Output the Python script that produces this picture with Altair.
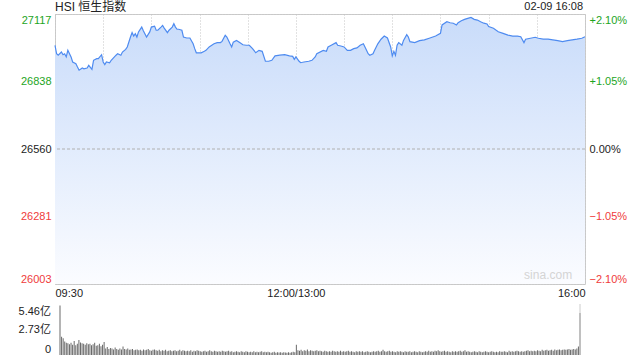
import altair as alt
import pandas as pd

# ---- data ----
minutes = [0, 1, 2, 4, 5, 6, 7, 8, 10, 11, 13, 14, 15, 17, 18, 20, 21, 23, 24, 26, 27, 29, 30, 31, 32, 34, 35,
           38, 39, 41, 42, 44, 45, 47, 48, 49, 50, 51, 52, 54, 55, 57, 59, 60, 62, 63, 64, 66, 67, 68, 70, 71,
           73, 74, 75, 76, 77, 79, 80, 82, 84, 86, 87, 88, 90, 91, 93, 94, 96, 99, 101, 103, 104, 106, 107,
           109, 110, 111, 113, 115, 117, 119, 121, 123, 125, 127, 129, 131, 133, 135, 137, 140, 143, 146, 148,
           149, 150, 152, 153, 155, 158, 160, 162, 163, 167, 169, 170, 172, 175, 176, 178, 180, 182, 184, 186,
           188, 190, 192, 193, 195, 196, 198, 199, 201, 203, 205, 207, 209, 210, 211, 212, 213, 214, 216, 217,
           219, 220, 221, 224, 227, 230, 233, 237, 240, 241, 244, 246, 248, 250, 251, 253, 255, 257, 259, 261,
           263, 265, 267, 269, 270, 273, 276, 279, 282, 285, 288, 290, 292, 293, 296, 299, 301, 304, 307, 310,
           313, 316, 319, 322, 325, 328, 330]
prices = [26988, 26953, 26947, 26960, 26949, 26953, 26940, 26967, 26940, 26919, 26912, 26898, 26885, 26894,
          26891, 26894, 26905, 26889, 26926, 26933, 26933, 26949, 26919, 26908, 26919, 26916, 26926, 26947,
          26953, 26947, 26960, 26971, 26981, 27022, 27040, 27026, 27036, 27022, 27043, 27063, 27048, 27022,
          27043, 27063, 27067, 27050, 27050, 27063, 27070, 27059, 27040, 27050, 27063, 27077, 27063, 27054,
          27054, 27050, 27022, 27018, 27018, 26994, 26974, 26957, 26957, 26957, 26963, 26967, 26981, 26994,
          26999, 26999, 27004, 27029, 27022, 26994, 26981, 27001, 27008, 26999, 26990, 26988, 26988, 26974,
          26957, 26967, 26963, 26922, 26922, 26926, 26944, 26947, 26949, 26944, 26942, 26930, 26940, 26922,
          26916, 26919, 26922, 26926, 26940, 26953, 26967, 26963, 26981, 26988, 26999, 26988, 26985, 26981,
          26967, 26967, 26974, 26977, 26988, 26994, 26981, 26953, 26947, 26953, 26967, 26994, 27013, 27026,
          27018, 26981, 26944, 26963, 26947, 26988, 26999, 26988, 27008, 27032, 27022, 27003, 26999, 27007,
          27010, 27017, 27026, 27037, 27072, 27085, 27081, 27079, 27072, 27081, 27089, 27095, 27099, 27103,
          27095, 27092, 27085, 27079, 27076, 27065, 27058, 27044, 27037, 27030, 27026, 27026, 27023, 26999,
          27013, 27017, 27021, 27017, 27013, 27013, 27010, 27007, 27003, 27007, 27010, 27013, 27017, 27023]

# volume per minute, in 亿 (1e8)
volumes = [
    5.30,
    1.95, 1.80, 1.45, 1.30, 1.25, 1.15, 1.30, 1.10, 1.50, 1.05,
    1.20, 1.60, 1.35, 1.25, 1.20, 1.10, 1.25, 1.15, 1.20, 1.05,
    1.15, 1.30, 1.00, 1.05, 1.20, 0.95, 1.10, 1.40, 0.70, 0.85,
    0.65, 0.75, 0.70, 0.60, 0.80, 0.65, 0.55, 0.70, 0.60, 0.90,
    0.65, 0.60, 0.70, 0.55, 0.60, 0.65, 0.50, 0.55, 0.60, 0.50,
    0.55, 0.45, 0.60, 0.50, 0.55, 0.65, 0.50, 0.45, 0.55, 0.60,
    0.50, 0.45, 0.55, 0.40, 0.50, 0.45, 0.55, 0.40, 0.45, 0.50,
    0.40, 0.45, 0.50, 0.40, 0.45, 0.55, 0.40, 0.50, 0.45, 0.40,
    0.45, 0.40, 0.50, 0.35, 0.45, 0.40, 0.50, 0.45, 0.40, 0.35,
    0.40, 0.45, 0.35, 0.40, 0.50, 0.40, 0.35, 0.45, 0.40, 0.35,
    0.40, 0.35, 0.45, 0.40, 0.35, 0.40, 0.45, 0.35, 0.40, 0.30,
    0.35, 0.40, 0.35, 0.30, 0.40, 0.35, 0.30, 0.40, 0.35, 0.30,
    0.35, 0.30, 0.40, 0.30, 0.35, 0.30, 0.35, 0.40, 0.30, 0.35,
    0.30, 0.35, 0.30, 0.25, 0.30, 0.35, 0.25, 0.30, 0.28, 0.30,
    0.25, 0.30, 0.28, 0.25, 0.30, 0.25, 0.30, 0.35, 0.30, 1.10,
    0.50, 0.45, 0.55, 0.40, 0.50, 0.45, 0.60, 0.40, 0.50, 0.45,
    0.40, 0.45, 0.50, 0.40, 0.45, 0.40, 0.35, 0.45, 0.40, 0.35,
    0.40, 0.35, 0.45, 0.40, 0.35, 0.40, 0.35, 0.45, 0.35, 0.40,
    0.35, 0.40, 0.45, 0.35, 0.40, 0.35, 0.30, 0.40, 0.35, 0.40,
    0.35, 0.40, 0.30, 0.35, 0.40, 0.35, 0.30, 0.35, 0.40, 0.35,
    0.40, 0.45, 0.35, 0.40, 0.55, 0.40, 0.35, 0.40, 0.45, 0.35,
    0.40, 0.35, 0.30, 0.40, 0.35, 0.40, 0.35, 0.30, 0.40, 0.35,
    0.35, 0.40, 0.30, 0.35, 0.40, 0.35, 0.30, 0.40, 0.35, 0.30,
    0.35, 0.40, 0.35, 0.45, 0.35, 0.40, 0.35, 0.45, 0.40, 0.50,
    0.40, 0.35, 0.40, 0.45, 0.35, 0.40, 0.35, 0.30, 0.40, 0.35,
    0.40, 0.35, 0.40, 0.45, 0.35, 0.40, 0.50, 0.35, 0.40, 0.35,
    0.30, 0.35, 0.40, 0.35, 0.30, 0.40, 0.35, 0.30, 0.35, 0.40,
    0.35, 0.30, 0.35, 0.40, 0.35, 0.30, 0.35, 0.30, 0.40, 0.35,
    0.35, 0.40, 0.35, 0.30, 0.45, 0.35, 0.40, 0.35, 0.40, 0.45,
    0.40, 0.35, 0.40, 0.35, 0.40, 0.45, 0.50, 0.40, 0.45, 0.40,
    0.45, 0.40, 0.50, 0.45, 0.40, 0.55, 0.45, 0.50, 0.55, 0.45,
    0.50, 0.55, 0.45, 0.60, 0.50, 0.55, 0.60, 0.50, 0.55, 0.60,
    0.55, 0.60, 0.65, 0.55, 0.60, 0.65, 0.60, 0.70, 0.90, 4.50,
]
vol_minutes = list(range(len(volumes)))

title_text = "HSI 恒生指数"
stamp_text = "02-09 16:08"
watermark_text = "sina.com"
PREV_CLOSE = 26560
price_ticks = [26003, 26281, 26560, 26838, 27117]
pct_ticks = [-2.10, -1.05, 0.0, 1.05, 2.10]
time_ticks = list(range(0, 331, 30))
vol_ticks = [0, 2.73, 5.46]
vol_tick_labels = ["0", "2.73亿", "5.46亿"]

# ---- styling ----
FONT = "Liberation Sans, Noto Sans CJK SC, sans-serif"
GREEN = "#1ea51e"
RED = "#ef3b3b"
GRID = "#c4c4c4"
BORDER = "#cccccc"
W, H, VH = 530, 270, 51

df = pd.DataFrame({"m": minutes, "price": prices})
df["pct"] = (df["price"] - PREV_CLOSE) / PREV_CLOSE * 100
vdf = pd.DataFrame({"m": vol_minutes, "vol": volumes})

xscale = alt.Scale(domain=[0, 330], nice=False, zero=False)
yscale = alt.Scale(domain=[price_ticks[0], price_ticks[-1]], nice=False, zero=False)

xaxis = alt.Axis(
    values=time_ticks,
    labelExpr="datum.value == 0 ? '09:30' : datum.value == 150 ? '12:00/13:00' : datum.value == 330 ? '16:00' : ''",
    grid=True, gridDash=[1, 2], gridColor=GRID, ticks=False, domain=False,
    labelFlush=True, labelOverlap=False, labelPadding=3, labelFontSize=11,
    labelColor="#222222", labelFont=FONT, title=None,
)
yaxis = alt.Axis(
    values=price_ticks, format="d", grid=True, gridDash=[1, 2], gridColor=GRID, ticks=False, domain=False,
    labelFlush=True, labelOverlap=False, labelPadding=4, labelFontSize=11, labelFont=FONT,
    labelColor={"condition": [{"test": "datum.value > 26561", "value": GREEN},
                              {"test": "datum.value < 26559", "value": RED}],
                "value": "#222222"},
    title=None,
)

base = alt.Chart(df)
area = base.mark_area(
    color=alt.Gradient(
        gradient="linear",
        stops=[alt.GradientStop(color="#c9dcfa", offset=0),
               alt.GradientStop(color="#fbfcff", offset=1)],
        x1=1, x2=1, y1=0, y2=1,
    )
).encode(
    x=alt.X("m:Q", scale=xscale, axis=xaxis),
    y=alt.Y("price:Q", scale=yscale, axis=yaxis),
    y2=alt.datum(price_ticks[0]),
)
line = base.mark_line(color="#4e8bf0", strokeWidth=1.2).encode(
    x=alt.X("m:Q", scale=xscale), y=alt.Y("price:Q", scale=yscale)
)
zero_rule = alt.Chart(pd.DataFrame({"p": [PREV_CLOSE]})).mark_rule(
    color="#b0b0b0", strokeDash=[3, 2], strokeWidth=1
).encode(y=alt.Y("p:Q", scale=yscale))
watermark = alt.Chart(pd.DataFrame({"t": [watermark_text], "m": [322], "p": [26010]})).mark_text(
    align="right", baseline="bottom", fontSize=12, color="#d4d4d4", font=FONT
).encode(x=alt.X("m:Q", scale=xscale), y=alt.Y("p:Q", scale=yscale), text="t:N")
header_left = alt.Chart(pd.DataFrame({"t": [title_text]})).mark_text(
    align="left", baseline="middle", fontSize=12, color="#222222", font=FONT
).encode(text="t:N", x=alt.value(0), y=alt.value(-7))
header_right = alt.Chart(pd.DataFrame({"t": [stamp_text]})).mark_text(
    align="right", baseline="middle", fontSize=11, color="#222222", font=FONT
).encode(text="t:N", x=alt.value(W - 2), y=alt.value(-7))

main = alt.layer(area, zero_rule, line, watermark, header_left, header_right)

pct_layer = base.mark_line(opacity=0).encode(
    x=alt.X("m:Q", scale=xscale),
    y=alt.Y("pct:Q", scale=alt.Scale(domain=[pct_ticks[0], pct_ticks[-1]], nice=False, zero=False),
            axis=alt.Axis(
                orient="right", values=pct_ticks, grid=False, ticks=False, domain=False,
                labelExpr="(datum.value > 0 ? '+' : '') + format(datum.value, '.2f') + '%'",
                labelFlush=True, labelOverlap=False, labelPadding=4, labelFontSize=11, labelFont=FONT,
                labelColor={"condition": [{"test": "datum.value > 0.001", "value": GREEN},
                                          {"test": "datum.value < -0.001", "value": RED}],
                            "value": "#222222"},
                title=None)),
)

top = alt.layer(main, pct_layer).resolve_scale(y="independent").properties(
    width=W, height=H, view=alt.ViewBackground(stroke=BORDER, strokeWidth=1)
)

# ---- volume panel ----
vol_scale = alt.Scale(domain=[vol_ticks[0], vol_ticks[-1]], nice=False, zero=True)
bars = alt.Chart(vdf).mark_bar(width=1, color="#6a6a6a").encode(
    x=alt.X("m:Q", scale=xscale, axis=None),
    y=alt.Y("vol:Q", scale=vol_scale, axis=alt.Axis(
        values=vol_ticks, grid=True, gridDash=[1, 2], gridColor=GRID, ticks=False,
        domain=True, domainColor=BORDER, labels=False, title=None)),
)
right_edge = alt.Chart(pd.DataFrame({"m": [330], "a": [vol_ticks[0]], "b": [vol_ticks[-1]]})).mark_rule(
    color=BORDER
).encode(x=alt.X("m:Q", scale=xscale, axis=None), y=alt.Y("a:Q", scale=vol_scale, axis=None), y2="b:Q")

vol_label_layers = []
for v, lab, bl in zip(vol_ticks, vol_tick_labels, ["bottom", "middle", "top"]):
    vol_label_layers.append(
        alt.Chart(pd.DataFrame({"v": [v], "t": [lab]})).mark_text(
            align="right", baseline=bl, fontSize=11, color="#222222", font=FONT, dx=-4,
            dy=(2 if bl == "top" else 0),
        ).encode(x=alt.value(0), y=alt.Y("v:Q", scale=vol_scale, axis=None), text="t:N")
    )

bottom = alt.layer(bars, right_edge, *vol_label_layers).properties(
    width=W, height=VH, view=alt.ViewBackground(stroke=None)
)

chart = alt.vconcat(top, bottom, spacing=4).properties(
    padding={"left": 18, "top": 0, "right": 0, "bottom": 0},
    background="white",
).configure_view(stroke=None)

chart.save("out.html", embed_options={"renderer": "svg", "actions": False})
